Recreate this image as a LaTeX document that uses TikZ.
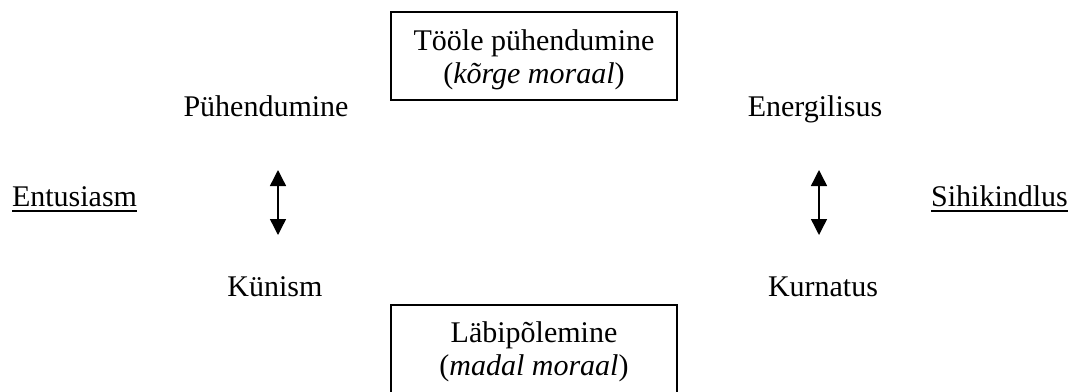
\documentclass[tikz,border=0pt]{standalone}
\usepackage{fontspec}
\setmainfont{Liberation Serif}
\usetikzlibrary{arrows.meta}
\newcommand\ulx[1]{\begingroup\setbox0\hbox{#1}\rlap{\rule[-6pt]{\wd0}{2pt}}\box0\endgroup}
\tikzset{
  lbl/.style={font=\fontsize{30}{33}\selectfont, inner sep=0pt, anchor=base},
  boxtxt/.style={font=\fontsize{30}{33}\selectfont, inner sep=0pt, anchor=base, align=center},
  box/.style={draw, line width=1.5pt, minimum width=286pt, inner sep=0pt},
  dbl/.style={line width=1.4pt, {Triangle[width=16pt,length=16pt]}-{Triangle[width=16pt,length=16pt]}}
}
\begin{document}
\begin{tikzpicture}[x=1pt,y=-1pt]
\useasboundingbox (0,0) rectangle (1071,391);
\clip (0,0) rectangle (1071,391);
\node[box, minimum height=88pt] (topbox) at (534,56) {};
\node[boxtxt] (toptext) at (534,83) {Tööle pühendumine\\(\textit{kõrge moraal})};
\node[box, minimum height=120pt] (botbox) at (534,365) {};
\node[boxtxt] (bottext) at (534,375) {Läbipõlemine\\(\textit{madal moraal})};
\node[lbl] (puh) at (266,116) {Pühendumine};
\node[lbl] (ene) at (815,116) {Energilisus};
\node[lbl] (kun) at (275,296) {Künism};
\node[lbl] (kur) at (823,296) {Kurnatus};
\node[lbl] (ent) at (74.5,206) {\ulx{Entusiasm}};
\node[lbl] (sih) at (999.5,206) {\ulx{Sihikindlus}};
\coordinate (la1) at (278,170);
\coordinate (la2) at (278,235);
\coordinate (ra1) at (819,170);
\coordinate (ra2) at (819,235);
\draw[dbl] (la1) -- (la2);
\draw[dbl] (ra1) -- (ra2);
\end{tikzpicture}
\end{document}
